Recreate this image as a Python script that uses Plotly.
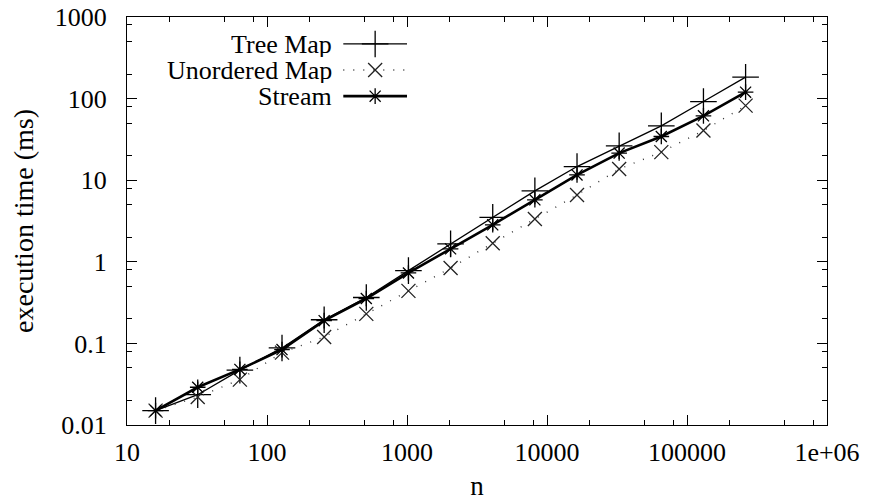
import plotly.graph_objects as go

# ---- data ----
n_values = [16, 32, 64, 128, 256, 512, 1024, 2048, 4096, 8192,
            16384, 32768, 65536, 131072, 262144]
tree_map = [0.015, 0.0235, 0.047, 0.088, 0.195, 0.365, 0.78, 1.66, 3.5, 7.4,
            14.7, 26.4, 46.4, 92, 183]
unordered_map = [0.015, 0.022, 0.036, 0.077, 0.12, 0.23, 0.44, 0.84, 1.69, 3.34,
                 6.6, 13.7, 22.1, 40.6, 82]
stream = [0.015, 0.029, 0.048, 0.084, 0.19, 0.355, 0.73, 1.44, 2.84, 5.75,
          11.6, 21.5, 34.3, 61.5, 120]

series_names = ["Tree Map", "Unordered Map", "Stream"]

x_tickvals = [10, 100, 1000, 10000, 100000, 1000000]
x_ticktext = ["10", "100", "1000", "10000", "100000", "1e+06"]
y_tickvals = [0.01, 0.1, 1, 10, 100, 1000]
y_ticktext = ["0.01", "0.1", "1", "10", "100", "1000"]
x_minor = [m * 10 ** k for k in range(1, 6) for m in (2, 5, 8)]
y_minor = [m * 10.0 ** k for k in range(-2, 3) for m in (2, 5, 8)]

FONT = "Liberation Serif"
FS = 27

styles = [
    dict(line=dict(color="black", width=1.3),
         marker=dict(symbol="cross-thin", size=19, line=dict(color="black", width=1.3))),
    dict(line=dict(color="#333333", width=1.4, dash="1px,9px"),
         marker=dict(symbol="x-thin", size=14, line=dict(color="#222222", width=1.3))),
    dict(line=dict(color="black", width=2.6),
         marker=dict(symbol="asterisk", size=13, line=dict(color="black", width=1.3))),
]

fig = go.Figure()
for name, ys, st in zip(series_names, [tree_map, unordered_map, stream], styles):
    fig.add_trace(go.Scatter(x=n_values, y=ys, mode="lines+markers", name=name,
                             line=st["line"], marker=st["marker"], showlegend=False))

# gnuplot-style key (text on the left, sample on the right)
key_rows = [0.934, 0.870, 0.806]
for name, yk, st in zip(series_names, key_rows, styles):
    fig.add_trace(go.Scatter(x=[0.309, 0.4], y=[yk, yk], mode="lines", line=st["line"],
                             xaxis="x2", yaxis="y2", showlegend=False, hoverinfo="skip"))
    fig.add_trace(go.Scatter(x=[0.3545], y=[yk], mode="markers", marker=st["marker"],
                             xaxis="x2", yaxis="y2", showlegend=False, hoverinfo="skip"))
    fig.add_annotation(text=name, xref="paper", yref="paper", x=0.294, y=yk,
                       xanchor="right", yanchor="middle", showarrow=False,
                       height=26, valign="middle", borderpad=0,
                       font=dict(family=FONT, size=FS - 1, color="black"))

axis_common = dict(showline=True, linecolor="black", linewidth=1.3, mirror="allticks",
                   ticks="inside", ticklen=10, tickwidth=1.2, tickcolor="black",
                   showgrid=False, zeroline=False, automargin=False,
                   ticklabeloverflow="allow",
                   tickfont=dict(family=FONT, size=FS - 1, color="black"))

fig.update_layout(
    width=873, height=501,
    margin=dict(l=127, r=46, t=17, b=76),
    paper_bgcolor="white", plot_bgcolor="white",
    font=dict(family=FONT, size=FS, color="black"),
    xaxis=dict(type="log", range=[1, 6], tickvals=x_tickvals, ticktext=x_ticktext,
               minor=dict(tickvals=x_minor, ticks="inside", ticklen=5, tickwidth=1.2,
                          tickcolor="black", showgrid=False),
               title=dict(text="n", font=dict(family=FONT, size=FS), standoff=20),
               ticklabelstandoff=4,
               **axis_common),
    yaxis=dict(type="log", range=[-2, 3], tickvals=y_tickvals, ticktext=y_ticktext,
               minor=dict(tickvals=y_minor, ticks="inside", ticklen=5, tickwidth=1.2,
                          tickcolor="black", showgrid=False),
               title=dict(text="execution time (ms)", font=dict(family=FONT, size=FS + 1),
                          standoff=12),
               ticklabelstandoff=14,
               **axis_common),
    xaxis2=dict(overlaying="x", range=[0, 1], visible=False),
    yaxis2=dict(overlaying="y", range=[0, 1], visible=False),
)

# remove the browser's default 8px body margin so the figure fills the window
fig.write_html("out.html", config={"displayModeBar": False},
               post_script="document.body.style.margin='0';document.body.style.overflow='hidden';")
